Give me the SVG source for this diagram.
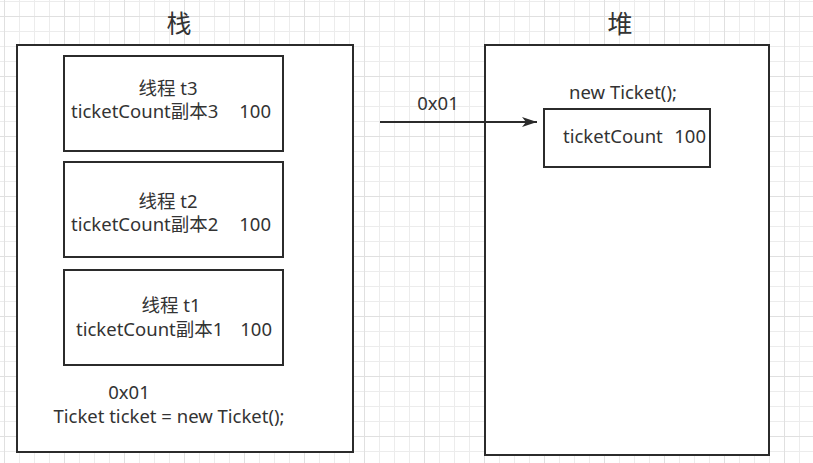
<svg xmlns="http://www.w3.org/2000/svg" width="813" height="463" viewBox="0 0 813 463">
  <defs>
    <pattern id="grid" patternUnits="userSpaceOnUse" x="4" y="16" width="60" height="60">
      <path d="M15.5 0V60M30.5 0V60M45.5 0V60M0 15.5H60M0 30.5H60M0 45.5H60" stroke="#ececec" stroke-width="1" fill="none"/>
      <path d="M0.5 0V60M0 0.5H60" stroke="#e0e0e0" stroke-width="1" fill="none"/>
    </pattern>
    <marker id="arrow" markerUnits="userSpaceOnUse" markerWidth="16" markerHeight="12" refX="15" refY="5" orient="auto" viewBox="0 0 16 10">
      <path d="M0 0L15 5L0 10L4 5Z" fill="#2b2b2b"/>
    </marker>
  </defs>
  <style>
    .box { fill: #ffffff; stroke: #2b2b2b; stroke-width: 2; }
    .t { font-family: "Noto Sans", "Noto Sans CJK SC", sans-serif; font-size: 18.5px; fill: #333333; }
    .title { font-family: "Noto Sans CJK SC", sans-serif; font-size: 25px; fill: #333333; }
    .edge { stroke: #2b2b2b; stroke-width: 2; fill: none; }
  </style>
  <rect x="0" y="0" width="813" height="463" fill="#ffffff"/>
  <rect x="0" y="0" width="813" height="463" fill="url(#grid)"/>

  <g id="stack">
    <text class="title" x="179" y="33" text-anchor="middle">栈</text>
    <rect class="box" x="17" y="45" width="336" height="407"/>
    <text class="t" x="129" y="399" text-anchor="middle">0x01</text>
    <text class="t" x="169" y="423" text-anchor="middle">Ticket ticket = new Ticket();</text>
  </g>

  <g id="thread-t3">
    <rect class="box" x="64" y="56" width="219" height="95"/>
    <text class="t" x="168" y="95" text-anchor="middle">线程 t3</text>
    <text class="t" x="71" y="118">ticketCount副本3</text>
    <text class="t" x="271" y="118" text-anchor="end">100</text>
  </g>

  <g id="thread-t2">
    <rect class="box" x="64" y="162" width="219" height="95"/>
    <text class="t" x="168" y="208" text-anchor="middle">线程 t2</text>
    <text class="t" x="71" y="231">ticketCount副本2</text>
    <text class="t" x="271" y="231" text-anchor="end">100</text>
  </g>

  <g id="thread-t1">
    <rect class="box" x="64" y="270" width="219" height="95"/>
    <text class="t" x="171" y="312" text-anchor="middle">线程 t1</text>
    <text class="t" x="76" y="336">ticketCount副本1</text>
    <text class="t" x="272" y="336" text-anchor="end">100</text>
  </g>

  <g id="heap">
    <text class="title" x="620" y="33" text-anchor="middle">堆</text>
    <rect class="box" x="485" y="45" width="284" height="410"/>
    <text class="t" x="623" y="99" text-anchor="middle">new Ticket();</text>
  </g>

  <g id="ticket-object">
    <rect class="box" x="544" y="109" width="166" height="58"/>
    <text class="t" x="563" y="143">ticketCount</text>
    <text class="t" x="706" y="143" text-anchor="end">100</text>
  </g>

  <g id="connectors">
    <line class="edge" x1="380" y1="122" x2="537" y2="122" marker-end="url(#arrow)"/>
    <text class="t" x="438" y="110" text-anchor="middle">0x01</text>
  </g>
</svg>
